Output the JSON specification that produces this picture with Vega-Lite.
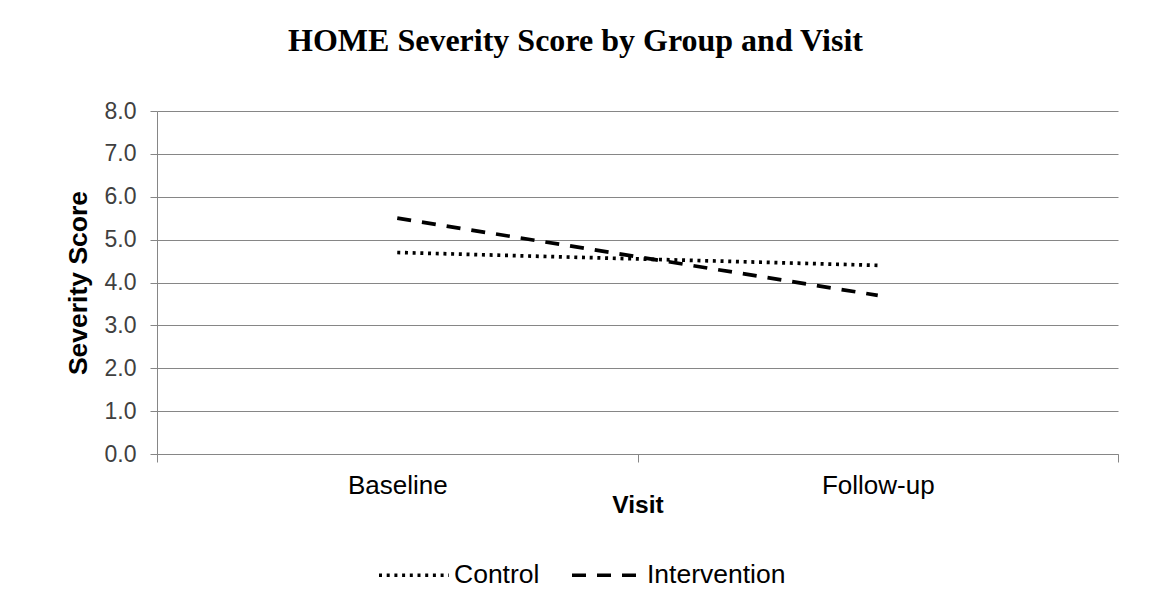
{
  "$schema": "https://vega.github.io/schema/vega-lite/v6.json",
  "width": 961,
  "height": 343,
  "autosize": {"type": "none"},
  "padding": {"left": 157, "top": 111, "right": 32, "bottom": 157},
  "background": "white",
  "title": {
    "text": "HOME Severity Score by Group and Visit",
    "font": "Liberation Serif",
    "fontSize": 32,
    "fontWeight": "bold",
    "color": "#000000",
    "anchor": "middle",
    "frame": "group",
    "dx": -62,
    "offset": 42
  },
  "config": {"view": {"stroke": null}},
  "data": {
    "values": [
      {"visit": "Baseline", "group": "Control", "score": 4.7},
      {"visit": "Follow-up", "group": "Control", "score": 4.4},
      {"visit": "Baseline", "group": "Intervention", "score": 5.5},
      {"visit": "Follow-up", "group": "Intervention", "score": 3.7}
    ]
  },
  "mark": {"type": "line", "color": "#000000", "strokeWidth": 3.7},
  "encoding": {
    "x": {
      "field": "visit",
      "type": "nominal",
      "sort": ["Baseline", "Follow-up"],
      "scale": {"type": "band", "paddingInner": 0, "paddingOuter": 0},
      "axis": {
        "title": "Visit",
        "tickBand": "extent",
        "labelAngle": 0,
        "grid": false,
        "labelFont": "Liberation Sans",
        "labelFontSize": 26,
        "labelColor": "#000000",
        "labelPadding": 10,
        "tickSize": 8,
        "tickColor": "#868686",
        "domainColor": "#868686",
        "titleFont": "Liberation Sans",
        "titleFontSize": 24.5,
        "titleFontWeight": "bold",
        "titleColor": "#000000",
        "titlePadding": -5
      }
    },
    "y": {
      "field": "score",
      "type": "quantitative",
      "scale": {"domain": [0, 8], "nice": false, "zero": true},
      "axis": {
        "title": "Severity Score",
        "values": [0, 1, 2, 3, 4, 5, 6, 7, 8],
        "format": ".1f",
        "grid": true,
        "gridColor": "#868686",
        "gridWidth": 1,
        "labelFont": "Liberation Sans",
        "labelFontSize": 23,
        "labelColor": "#404040",
        "labelPadding": 14,
        "tickSize": 7,
        "tickColor": "#868686",
        "domainColor": "#868686",
        "titleFont": "Liberation Sans",
        "titleFontSize": 26.5,
        "titleFontWeight": "bold",
        "titleColor": "#000000",
        "titlePadding": 12
      }
    },
    "strokeDash": {
      "field": "group",
      "type": "nominal",
      "scale": {"domain": ["Control", "Intervention"], "range": [[3, 4.7], [14, 11]]},
      "legend": {
        "title": null,
        "orient": "none",
        "direction": "horizontal",
        "legendX": 220,
        "legendY": 427,
        "symbolType": "stroke",
        "symbolSize": 4900,
        "symbolStrokeColor": "#000000",
        "symbolStrokeWidth": 3.7,
        "labelFont": "Liberation Sans",
        "labelFontSize": 26.5,
        "labelColor": "#000000",
        "labelOffset": 3,
        "columnPadding": 24
      }
    }
  }
}
